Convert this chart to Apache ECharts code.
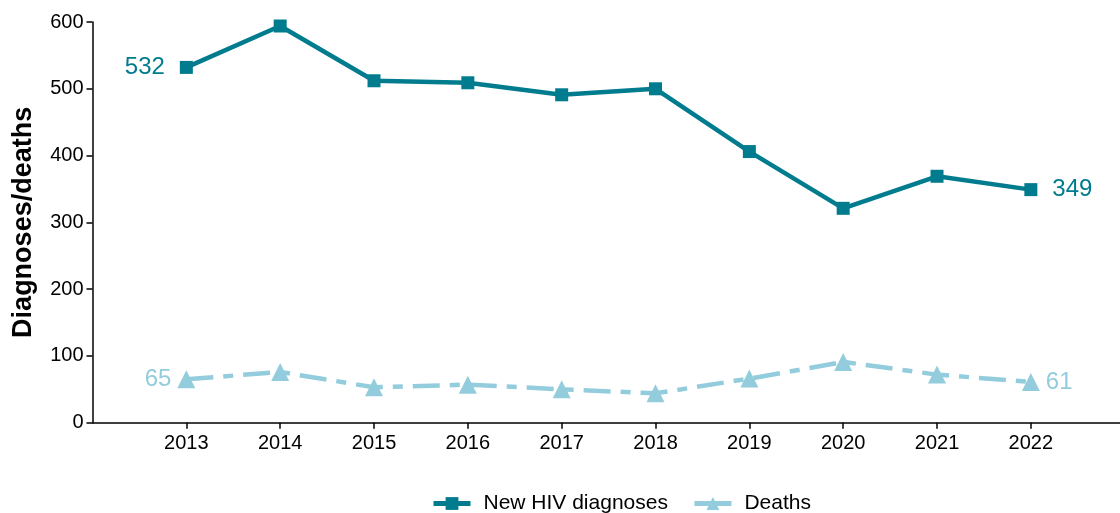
<!DOCTYPE html>
<html>
<head>
<meta charset="utf-8">
<script src="https://cdn.jsdelivr.net/npm/echarts@6/dist/echarts.min.js"></script>
<style>
  html, body { margin: 0; padding: 0; background: #fff; }
  #chart { width: 1120px; height: 513px; }
</style>
</head>
<body>
<div id="chart"></div>
<script>
const years = [2013, 2014, 2015, 2016, 2017, 2018, 2019, 2020, 2021, 2022]
const diagnoses = [532, 594, 512, 509, 491, 500, 406, 321, 369, 349]
const deaths = [65, 76, 53, 57, 50, 44, 66, 91, 72, 61]

const teal = '#007C8E'
const light = '#93CDDD'
const font = 'Liberation Sans, Arial, sans-serif'

// label only first and last point
function toPoints(values, color, gapL, gapR) {
  return values.map((v, i) => {
    const p = { value: [years[i], v] }
    if (i === 0 || i === values.length - 1) {
      p.label = {
        show: true,
        position: i === 0 ? 'left' : 'right',
        distance: i === 0 ? gapL : gapR,
        color: color,
        fontSize: 24,
        fontFamily: font,
        formatter: String(v)
      }
    }
    return p
  })
}

const chart = echarts.init(document.getElementById('chart'))
chart.setOption({
  animation: false,
  grid: { left: 92.5, right: 0, top: 22, bottom: 90.3 },
  legend: {
    bottom: -6,
    left: 426,
    itemWidth: 37,
    itemHeight: 16,
    itemGap: 24,
    lineStyle: { width: 5, type: 'solid' },
    textStyle: { fontSize: 21, color: '#000', fontFamily: font, padding: [0, 0, 0, 8] },
    data: ['New HIV diagnoses', 'Deaths']
  },
  xAxis: {
    type: 'value',
    min: 2012,
    max: 2022.95,
    splitLine: { show: false },
    axisLine: { lineStyle: { color: '#000', width: 1.5 } },
    axisTick: { show: true, customValues: years, length: 6, lineStyle: { color: '#000', width: 1.5 } },
    axisLabel: {
      customValues: years,
      color: '#000', fontSize: 20, fontFamily: font, margin: 11,
      formatter: (v) => String(v)
    }
  },
  yAxis: {
    type: 'value',
    min: 0,
    max: 600,
    interval: 100,
    name: 'Diagnoses/deaths',
    nameLocation: 'middle',
    nameGap: 55,
    nameTextStyle: { fontSize: 27, fontWeight: 'bold', color: '#000', fontFamily: font },
    splitLine: { show: false },
    axisLine: { show: true, lineStyle: { color: '#000', width: 1.5 } },
    axisTick: { show: true, length: 6, lineStyle: { color: '#000', width: 1.5 } },
    axisLabel: { color: '#000', fontSize: 20, fontFamily: font, margin: 9 }
  },
  series: [
    {
      name: 'New HIV diagnoses',
      type: 'line',
      data: toPoints(diagnoses, teal, 15, 15),
      symbol: 'rect',
      symbolSize: 13,
      color: teal,
      lineStyle: { width: 4.5, color: teal },
      itemStyle: { color: teal }
    },
    {
      name: 'Deaths',
      type: 'line',
      data: toPoints(deaths, light, 6, 6),
      symbol: 'triangle',
      symbolSize: 18,
      color: light,
      lineStyle: { width: 4.5, color: light, type: [27, 10, 10, 10] },
      itemStyle: { color: light }
    }
  ]
})
</script>
</body>
</html>
